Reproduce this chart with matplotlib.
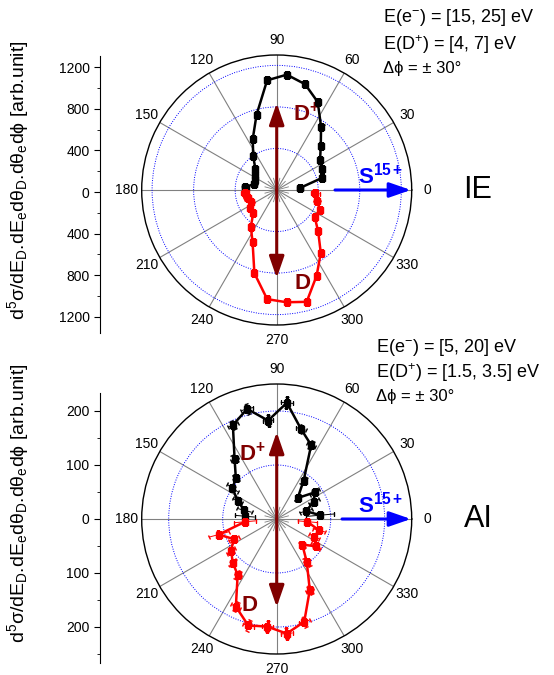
import numpy as np
import matplotlib
matplotlib.use('Agg')
import matplotlib.pyplot as plt
from matplotlib.patches import FancyArrowPatch
from matplotlib.ticker import MultipleLocator, FuncFormatter

plt.rcParams['font.family'] = ['Liberation Sans', 'DejaVu Sans']
plt.rcParams['mathtext.fontset'] = 'custom'
plt.rcParams['mathtext.rm'] = 'Liberation Sans'
plt.rcParams['mathtext.it'] = 'Liberation Sans:italic'
plt.rcParams['mathtext.bf'] = 'Liberation Sans:bold'

# --- данные: IE (верхний график) ---
ie_ang_up = [5, 15, 25, 35, 45, 55, 65, 75, 85, 95, 105, 115, 125, 135, 145, 155, 165, 175]
ie_up = [225, 455, 480, 510, 600, 745, 935, 1055, 1115, 1060, 750, 545, 395, 290, 250, 235, 225, 305]
ie_up_err = [25, 20, 20, 20, 20, 25, 25, 25, 25, 25, 25, 20, 20, 20, 20, 20, 25, 35]
ie_ang_dn = [185, 195, 205, 215, 225, 235, 245, 255, 265, 275, 285, 295, 305, 315, 325, 335, 345, 355]
ie_dn = [305, 290, 270, 310, 320, 435, 550, 830, 1055, 1085, 1115, 910, 740, 565, 445, 460, 400, 375]
ie_dn_err = [40, 35, 25, 20, 20, 20, 20, 25, 25, 25, 25, 25, 20, 20, 20, 25, 30, 40]

# --- данные: AI (нижний график) ---
ai_ang_up = [5, 15, 25, 35, 45, 55, 65, 75, 85, 95, 105, 115, 125, 135, 145, 155, 165, 175]
ai_up = [81, 56, 76, 86, 55, 87, 151, 173, 216, 183, 211, 192, 136, 107, 100, 80, 62, 59]
ai_up_err = [26, 12, 10, 10, 8, 8, 8, 8, 10, 10, 10, 8, 8, 8, 12, 10, 14, 18]
ai_ang_dn = [185, 195, 205, 215, 225, 235, 245, 255, 265, 275, 285, 295, 305, 315, 325, 335, 345, 355]
ai_dn = [59, 111, 88, 103, 115, 126, 179, 204, 200, 213, 197, 145, 97, 67, 88, 77, 81, 57]
ai_dn_err = [20, 19, 10, 9, 9, 9, 9, 10, 10, 10, 10, 9, 9, 8, 10, 10, 12, 18]

angle_labels = ['0', '30', '60', '90', '120', '150', '180', '210', '240', '270', '300', '330']

ylabel = (r'd$^\mathregular{5}$σ/dE$_\mathregular{D}$.dE$_\mathregular{e}$dθ$_\mathregular{D}$'
          r'.dθ$_\mathregular{e}$dϕ [arb.unit]')

W, H = 554, 675
fig = plt.figure(figsize=(W / 100, H / 100), dpi=100)


def px_rect(cx, cy, r):
    # прямоугольник осей по центру и радиусу в пикселях
    return [(cx - r) / W, (H - cy - r) / H, 2 * r / W, 2 * r / H]


def setup_polar(ax, rmax, rings):
    ax.set_ylim(0, rmax)
    ax.set_xticks(np.deg2rad(np.arange(0, 360, 30)))
    ax.set_xticklabels(angle_labels, fontsize=10)
    ax.set_xticks(np.deg2rad(np.arange(15, 360, 30)), minor=True)
    ax.tick_params(axis='x', which='major', direction='in', length=5, width=0.8, pad=4)
    ax.tick_params(axis='x', which='minor', direction='in', length=3, width=0.8)
    ax.set_yticks(rings)
    ax.set_yticklabels([])
    ax.xaxis.grid(True, color='gray', lw=0.8, ls='-')
    ax.yaxis.grid(True, color='blue', lw=0.7, ls=(0, (1, 1.5)))
    ax.spines['polar'].set_linewidth(1.0)
    # короткие лучи в центре
    for a in np.arange(15, 360, 30):
        ax.plot([np.deg2rad(a)] * 2, [0, rmax * 0.09], color='gray', lw=0.6)


def arrow(ax, p0, p1, color):
    ax.add_patch(FancyArrowPatch(p0, p1, transform=ax.transAxes,
                                 arrowstyle='-|>,head_length=1.3,head_width=0.45',
                                 mutation_scale=10, color=color, lw=2.2,
                                 shrinkA=0, shrinkB=0, zorder=6))


def draw_arrows(ax, blue_start):
    arrow(ax, (0.5, 0.5), (0.5, 0.822), '#800000')
    arrow(ax, (0.5, 0.5), (0.5, 0.174), '#800000')
    arrow(ax, (blue_start, 0.5), (0.997, 0.5), 'blue')


def left_axis(rect, ylim, major, minor, label_y):
    cax = fig.add_axes(rect)
    cax.set_ylim(*ylim)
    cax.set_xticks([])
    for s in ['top', 'right', 'bottom']:
        cax.spines[s].set_visible(False)
    cax.patch.set_visible(False)
    cax.yaxis.set_major_locator(MultipleLocator(major))
    cax.yaxis.set_minor_locator(MultipleLocator(minor))
    cax.yaxis.set_major_formatter(FuncFormatter(lambda v, p: '%d' % abs(v)))
    cax.tick_params(axis='y', which='major', length=4, labelsize=10)
    cax.tick_params(axis='y', which='minor', length=2.5)
    fig.text(0.033, label_y, ylabel, rotation=90, ha='center', va='center', fontsize=14)


# ===== верхний график: IE =====
ax1 = fig.add_axes(px_rect(276.7, 190, 135), projection='polar')
setup_polar(ax1, 1300, [400, 800, 1200])
ax1.errorbar(np.deg2rad(ie_ang_up), ie_up, yerr=ie_up_err, fmt='-s', color='black',
             ms=5, lw=1.8, elinewidth=0.7, capsize=1.5, zorder=5)
ax1.errorbar(np.deg2rad(ie_ang_dn), ie_dn, yerr=ie_dn_err, fmt='-s', color='red',
             ms=5, lw=1.8, elinewidth=0.7, capsize=1.5, zorder=5)
draw_arrows(ax1, 0.716)
ax1.text(0.56, 0.78, r'D$^\mathregular{+}$', transform=ax1.transAxes, color='#800000',
         fontsize=16, fontweight='bold', ha='left', va='center')
ax1.text(0.565, 0.155, 'D', transform=ax1.transAxes, color='#800000',
         fontsize=16, fontweight='bold', ha='left', va='center')
ax1.text(0.80, 0.555, r'S$^\mathregular{15+}$', transform=ax1.transAxes, color='blue',
         fontsize=16, fontweight='bold', ha='left', va='center')
left_axis([100 / W, (H - 333) / H, 0.02, 277 / H], (-1354, 1306), 400, 200, 0.733)
fig.text(383 / W, 1 - 18 / H, r'E(e$^\mathregular{-}$) = [15, 25] eV', fontsize=13, va='center')
fig.text(383 / W, 1 - 45 / H, r'E(D$^\mathregular{+}$) = [4, 7] eV', fontsize=13, va='center')
fig.text(383 / W, 1 - 69 / H, 'Δϕ = ± 30°', fontsize=12, va='center')
fig.text(478 / W, 1 - 190 / H, 'IE', fontsize=22, ha='center', va='center')

# ===== нижний график: AI =====
ax2 = fig.add_axes(px_rect(276.7, 519, 135), projection='polar')
setup_polar(ax2, 250, [100, 200])
ax2.errorbar(np.deg2rad(ai_ang_up), ai_up, yerr=ai_up_err, xerr=np.deg2rad(3), fmt='-s',
             color='black', ms=5, lw=1.8, elinewidth=0.7, capsize=1.5, zorder=5)
ax2.errorbar(np.deg2rad(ai_ang_dn), ai_dn, yerr=ai_dn_err, xerr=np.deg2rad(3), fmt='-s',
             color='red', ms=5, lw=1.8, elinewidth=0.7, capsize=1.5, zorder=5)
draw_arrows(ax2, 0.742)
ax2.text(0.36, 0.74, r'D$^\mathregular{+}$', transform=ax2.transAxes, color='#800000',
         fontsize=16, fontweight='bold', ha='left', va='center')
ax2.text(0.37, 0.18, 'D', transform=ax2.transAxes, color='#800000',
         fontsize=16, fontweight='bold', ha='left', va='center')
ax2.text(0.80, 0.555, r'S$^\mathregular{15+}$', transform=ax2.transAxes, color='blue',
         fontsize=16, fontweight='bold', ha='left', va='center')
left_axis([100 / W, (H - 663) / H, 0.02, 270 / H], (-267, 233), 100, 50, 0.255)
fig.text(376 / W, 1 - 347 / H, r'E(e$^\mathregular{-}$) = [5, 20] eV', fontsize=13, va='center')
fig.text(376 / W, 1 - 373 / H, r'E(D$^\mathregular{+}$) = [1.5, 3.5] eV', fontsize=13, va='center')
fig.text(376 / W, 1 - 396 / H, 'Δϕ = ± 30°', fontsize=12, va='center')
fig.text(478 / W, 1 - 519 / H, 'AI', fontsize=22, ha='center', va='center')

fig.savefig('out.png', dpi=100)
